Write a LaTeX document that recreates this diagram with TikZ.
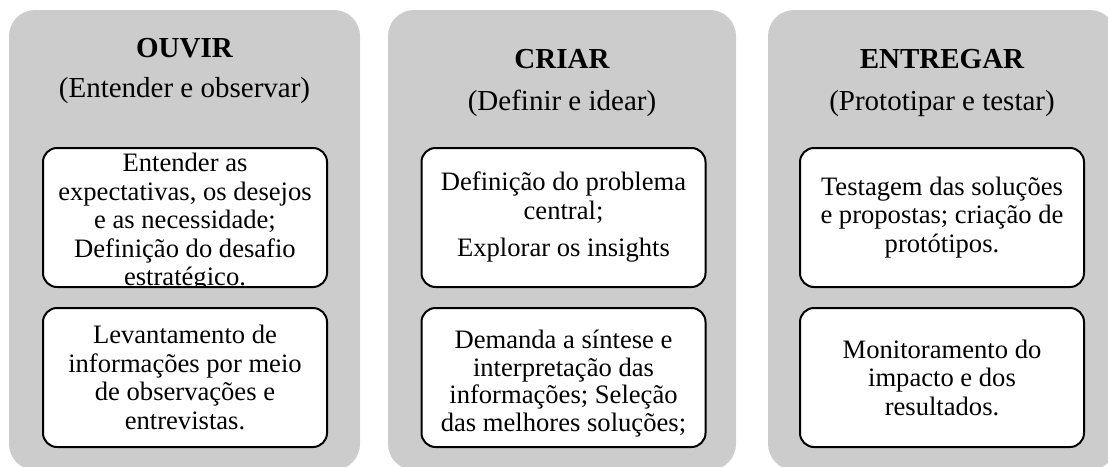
\documentclass[tikz,border=0pt]{standalone}
\usepackage{fontspec}
\setmainfont{Liberation Serif}
\definecolor{panelgray}{RGB}{204,204,204}
\begin{document}
\begin{tikzpicture}[x=1pt, y=-1pt,
	panel/.style={fill=panelgray, rounded corners=26pt, minimum width=348pt, minimum height=460pt, inner sep=0pt},
	card/.style={fill=white, draw=black, line width=2pt, rounded corners=14pt, minimum width=284pt, minimum height=139pt, inner sep=0pt},
	title/.style={anchor=base, font=\fontsize{29}{33}\selectfont\bfseries},
	sub/.style={anchor=base, font=\fontsize{29}{33}\selectfont},
	txt/.style={align=center, inner sep=0pt, font=\fontsize{26.6}{28.5}\selectfont}]
		\useasboundingbox (0,0) rectangle (1108,466);
		% colunas
		\node[panel, minimum width=351pt] (ouvir) at (184.5,240) {};
		\node[panel] (criar) at (562,240) {};
		\node[panel] (entregar) at (942,240) {};
		\node[title] (t1) at (184.5,57) {OUVIR};
		\node[sub] (s1) at (184.5,97) {(Entender e observar)};
		\node[title] (t2) at (562,68) {CRIAR};
		\node[sub] (s2) at (562,110) {(Definir e idear)};
		\node[title] (t3) at (942,68) {ENTREGAR};
		\node[sub] (s3) at (942,110) {(Prototipar e testar)};
		% caixas
		\node[card] (o1) at (185,217.5) {};
		\node[card] (o2) at (185,377.5) {};
		\node[card] (c1) at (563.5,217.5) {};
		\node[card] (c2) at (563.5,377.5) {};
		\node[card] (e1) at (942,217.5) {};
		\node[card] (e2) at (942,377.5) {};
		\begin{scope}
			\clip ([yshift=1pt]o1.south west) rectangle (o1.north east);
			\node[txt, yshift=-5pt] (o1t) at (o1) {Entender as\\expectativas, os desejos\\e as necessidade;\\Definição do desafio\\estratégico.};
		\end{scope}
		\node[txt] (o2t) at (o2) {Levantamento de\\informações por meio\\de observações e\\entrevistas.};
		\node[txt] (c1t) at (c1) {Definição do problema\\central;\\[9pt]Explorar os insights};
		\node[txt, yshift=-6pt, font=\fontsize{26.6}{27.5}\selectfont] (c2t) at (c2) {Demanda a síntese e\\interpretação das\\informações; Seleção\\das melhores soluções;};
		\node[txt] (e1t) at (e1) {Testagem das soluções\\e propostas; criação de\\protótipos.};
		\node[txt] (e2t) at (e2) {Monitoramento do\\impacto e dos\\resultados.};
\end{tikzpicture}
\end{document}
